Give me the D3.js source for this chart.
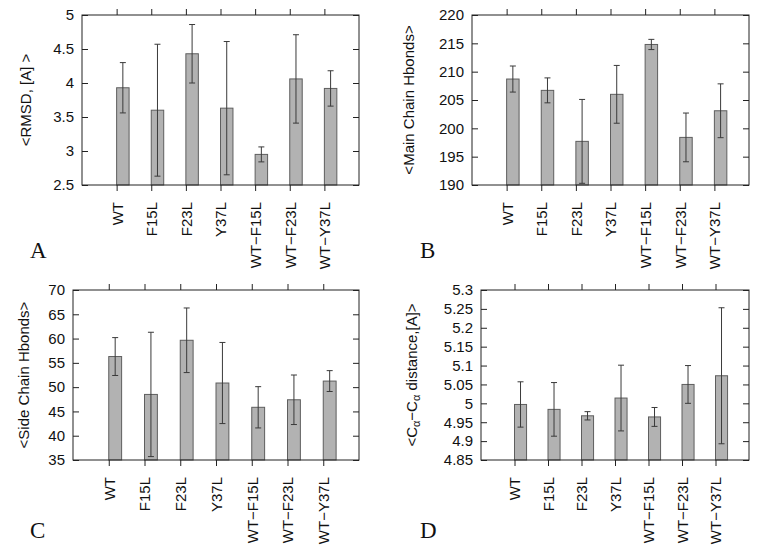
<!DOCTYPE html>
<html><head><meta charset="utf-8">
<script src="https://cdn.jsdelivr.net/npm/d3@7"></script>
<style>body{margin:0;background:#fff}svg{display:block}</style>
</head><body>
<script>
const categories = ["WT","F15L","F23L","Y37L","WT\u2212F15L","WT\u2212F23L","WT\u2212Y37L"];

const rmsdMean = [3.93, 3.60, 4.43, 3.63, 2.95, 4.06, 3.92];
const rmsdErr  = [0.37, 0.97, 0.43, 0.98, 0.11, 0.65, 0.26];
const rmsdTicks = [2.5, 3, 3.5, 4, 4.5, 5];

const mainMean = [208.7, 206.7, 197.7, 206.0, 214.8, 198.4, 203.1];
const mainErr  = [2.3, 2.2, 7.4, 5.1, 0.9, 4.3, 4.75];
const mainTicks = [190, 195, 200, 205, 210, 215, 220];

const sideMean = [56.3, 48.5, 59.65, 50.85, 45.85, 47.4, 51.25];
const sideErr  = [3.9, 12.8, 6.65, 8.35, 4.25, 5.1, 2.15];
const sideTicks = [35, 40, 45, 50, 55, 60, 65, 70];

const caMean = [4.997, 4.984, 4.967, 5.014, 4.964, 5.050, 5.073];
const caErr  = [0.060, 0.071, 0.011, 0.087, 0.025, 0.050, 0.180];
const caTicks = [4.85, 4.9, 4.95, 5, 5.05, 5.1, 5.15, 5.2, 5.25, 5.3];

const panels = [
  {letter:"A", mean:rmsdMean, err:rmsdErr, ticks:rmsdTicks,
   box:{l:82,r:359,t:15,b:185}, ylab:"<RMSD, [A] >", ylabX:26, letterPos:[30,258]},
  {letter:"B", mean:mainMean, err:mainErr, ticks:mainTicks,
   box:{l:472,r:749,t:15,b:185}, ylab:"<Main Chain Hbonds>", ylabX:409, letterPos:[420,258]},
  {letter:"C", mean:sideMean, err:sideErr, ticks:sideTicks,
   box:{l:73,r:359,t:290,b:460}, ylab:"<Side Chain Hbonds>", ylabX:24, letterPos:[30,538]},
  {letter:"D", mean:caMean, err:caErr, ticks:caTicks,
   box:{l:481,r:749,t:290,b:460}, ylab:"CA", ylabX:412, letterPos:[420,538]}
];

const FONT = "'Liberation Sans', Arial, sans-serif";
const svg = d3.select("body").append("svg").attr("width",757).attr("height",552)
  .style("font-family",FONT);

const barW = 0.36;
const errColor = "#3a3a3a";

panels.forEach(p => {
  const {l,r,t,b} = p.box;
  const x = d3.scaleLinear().domain([0,8]).range([l,r]);
  const y = d3.scaleLinear().domain([p.ticks[0], p.ticks[p.ticks.length-1]]).range([b,t]);
  const ymin = y.domain()[0];
  const g = svg.append("g");

  // bars
  g.selectAll("rect.bar").data(p.mean).join("rect").attr("class","bar")
    .attr("x",(d,i)=>x(i+1))
    .attr("width",x(1+barW)-x(1))
    .attr("y",d=>y(d))
    .attr("height",d=>y.range()[0]-y(d))
    .attr("fill","#b2b2b2").attr("stroke","#5e5e5e").attr("stroke-width",1);

  // error bars
  const ex = i => x(i+1+barW/2);
  g.selectAll("g.err").data(p.mean).join("g").attr("class","err").each(function(d,i){
    const s = d3.select(this);
    const hi = d + p.err[i], lo = d - p.err[i];
    s.append("line").attr("x1",ex(i)).attr("x2",ex(i))
      .attr("y1",y(Math.max(lo, ymin))).attr("y2",y(hi))
      .attr("stroke",errColor).attr("stroke-width",1);
    s.append("line").attr("x1",ex(i)-3).attr("x2",ex(i)+3)
      .attr("y1",y(hi)).attr("y2",y(hi)).attr("stroke",errColor).attr("stroke-width",1);
    if (lo > ymin) {
      s.append("line").attr("x1",ex(i)-3).attr("x2",ex(i)+3)
        .attr("y1",y(lo)).attr("y2",y(lo)).attr("stroke",errColor).attr("stroke-width",1);
    }
  });

  // frame
  g.append("rect").attr("x",l).attr("y",t).attr("width",r-l).attr("height",b-t)
    .attr("fill","none").attr("stroke","#222").attr("stroke-width",1);

  // y axis (ticks inward both sides)
  const ya = d3.axisLeft(y).tickValues(p.ticks).tickFormat(d=>String(d)).tickSizeInner(-6).tickSizeOuter(0).tickPadding(8);
  const yg = g.append("g").attr("transform",`translate(${l},0)`).call(ya);
  yg.select(".domain").remove();
  yg.selectAll("text").attr("font-size",15).attr("fill","#111").attr("x",-8).attr("font-family",FONT);
  yg.selectAll("line").attr("stroke","#222");
  const yr = d3.axisRight(y).tickValues(p.ticks).tickFormat("").tickSizeInner(-6).tickSizeOuter(0);
  const yrg = g.append("g").attr("transform",`translate(${r},0)`).call(yr);
  yrg.select(".domain").remove(); yrg.selectAll("line").attr("stroke","#222");

  // x axis (ticks outward top and bottom)
  const tickPos = categories.map((c,i)=>i+1);
  const xa = d3.axisBottom(x).tickValues(tickPos).tickFormat(d=>categories[d-1]).tickSizeInner(6).tickSizeOuter(0).tickPadding(0);
  const xg = g.append("g").attr("transform",`translate(0,${b})`).call(xa);
  xg.select(".domain").remove(); xg.selectAll("line").attr("stroke","#222");
  xg.selectAll("text").attr("font-size",15).attr("fill","#111")
    .attr("font-family",FONT)
    .attr("text-anchor","end").attr("dy","0.36em")
    .attr("transform","translate(0,17) rotate(-90)").attr("y",0).attr("x",0);
  const xt = d3.axisTop(x).tickValues(tickPos).tickFormat("").tickSizeInner(6).tickSizeOuter(0);
  const xtg = g.append("g").attr("transform",`translate(0,${t})`).call(xt);
  xtg.select(".domain").remove(); xtg.selectAll("line").attr("stroke","#222");

  // y label
  const cy = (t+b)/2;
  const lab = g.append("text").attr("transform",`translate(${p.ylabX},${cy}) rotate(-90)`)
    .attr("text-anchor","middle").attr("dy","0.36em").attr("font-size",15).attr("fill","#111");
  if (p.ylab === "CA") {
    lab.append("tspan").text("<C");
    lab.append("tspan").text("\u03b1").attr("font-size",11).attr("dy","3");
    lab.append("tspan").text("\u2212C").attr("dy","-3");
    lab.append("tspan").text("\u03b1").attr("font-size",11).attr("dy","3");
    lab.append("tspan").text(" distance,[A]>").attr("dy","-3");
  } else {
    lab.text(p.ylab);
  }

  // panel letter
  g.append("text").attr("x",p.letterPos[0]).attr("y",p.letterPos[1])
    .attr("font-family","'Liberation Serif', 'Times New Roman', serif")
    .attr("font-size",23).attr("fill","#111").text(p.letter);
});
</script>
</body></html>
